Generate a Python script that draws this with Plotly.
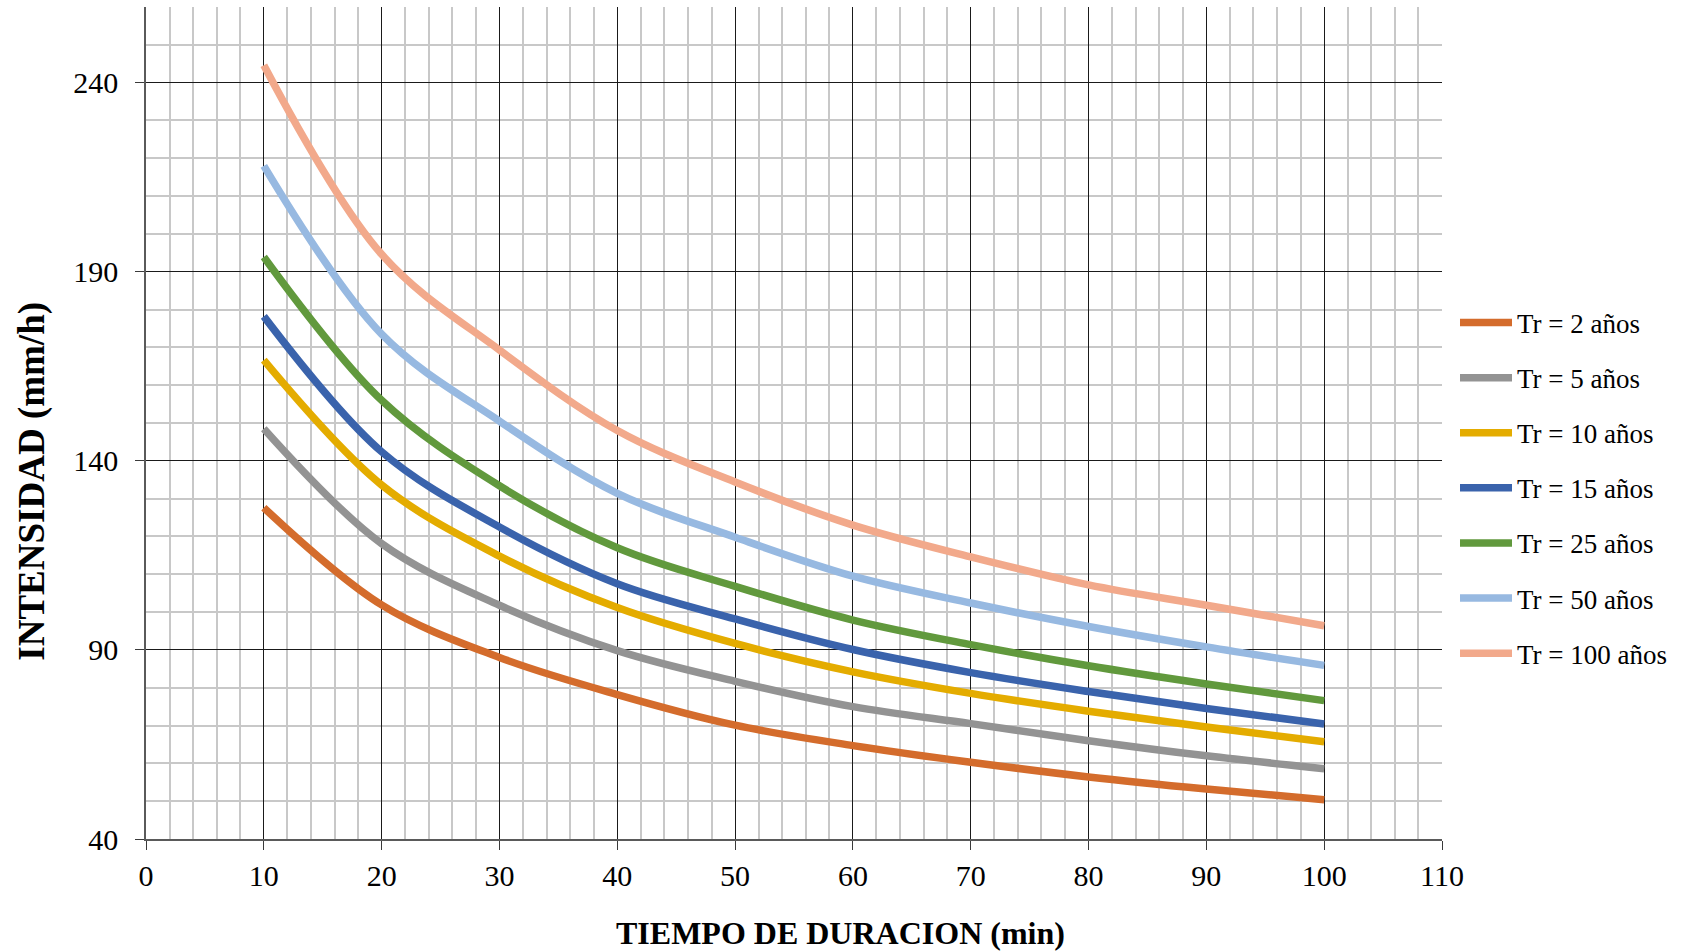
import plotly.graph_objects as go

# Duration (min)
t = [10, 20, 30, 40, 50, 60, 70, 80, 90, 100]

# Intensity (mm/h) per return period
tr2 = [127.6, 101.9, 88.0, 78.2, 70.1, 64.7, 60.3, 56.4, 53.2, 50.4]
tr5 = [148.5, 118.1, 101.8, 89.8, 81.7, 75.0, 70.5, 66.0, 62.0, 58.6]
tr10 = [166.6, 133.6, 114.8, 101.2, 91.7, 84.2, 78.5, 73.8, 69.6, 65.7]
tr15 = [178.2, 142.4, 122.5, 107.5, 98.2, 90.1, 84.0, 79.0, 74.5, 70.4]
tr25 = [193.9, 156.0, 133.4, 117.0, 106.8, 97.9, 91.4, 85.8, 81.0, 76.6]
tr50 = [218.0, 173.5, 150.5, 131.4, 119.8, 109.5, 102.4, 96.2, 90.8, 85.9]
tr100 = [244.6, 194.6, 169.3, 148.0, 134.4, 123.0, 114.6, 107.2, 101.8, 96.4]

names = ["Tr = 2 años", "Tr = 5 años", "Tr = 10 años", "Tr = 15 años",
         "Tr = 25 años", "Tr = 50 años", "Tr = 100 años"]
series = [tr2, tr5, tr10, tr15, tr25, tr50, tr100]
colors = ["#D46C2C", "#939393", "#E4AC00", "#3A63AC", "#61993D", "#97B9E1", "#F2A98B"]

FONT = "Liberation Serif"

fig = go.Figure()
for i, (nm, ys, c) in enumerate(zip(names, series, colors)):
    fig.add_trace(go.Scatter(
        x=t, y=ys, name=nm, mode="lines",
        line=dict(color=c, width=7.5, shape="spline", smoothing=1.0),
        legendgroup=f"g{i}",
    ))

W, H = 1687, 951
L, R, T, B = 146, 245, 7, 112
pw = W - L - R
ph = H - T - B

fig.update_layout(
    width=W, height=H,
    margin=dict(l=L, r=R, t=T, b=B),
    paper_bgcolor="white", plot_bgcolor="white",
    font=dict(family=FONT, color="black"),
    showlegend=True,
    legend=dict(
        x=(1455 - L) / pw, xanchor="left",
        y=(839 - 488) / ph, yanchor="middle",
        font=dict(family=FONT, size=27, color="black"),
        traceorder="grouped", tracegroupgap=17,
        itemwidth=52, bgcolor="rgba(0,0,0,0)",
    ),
    xaxis=dict(
        range=[0, 110], tick0=0, dtick=10,
        showgrid=True, gridcolor="#1a1a1a", gridwidth=1,
        minor=dict(dtick=2, tick0=0, showgrid=True, gridcolor="#C8C8C8", gridwidth=1.5,
                   ticks=""),
        showline=True, linecolor="#5a5a5a", linewidth=1.5,
        ticks="outside", ticklen=9, tickcolor="#3a3a3a", tickwidth=1,
        tickfont=dict(family=FONT, size=30, color="black"),
        ticklabelstandoff=0,
        zeroline=False,
    ),
    yaxis=dict(
        range=[40, 260], tick0=40, dtick=50,
        showgrid=True, gridcolor="#1a1a1a", gridwidth=1,
        minor=dict(dtick=10, tick0=40, showgrid=True, gridcolor="#C8C8C8", gridwidth=1.5,
                   ticks=""),
        showline=True, linecolor="#5a5a5a", linewidth=1.5,
        ticks="outside", ticklen=9, tickcolor="#3a3a3a", tickwidth=1,
        tickfont=dict(family=FONT, size=30, color="black"),
        ticklabelstandoff=11,
        zeroline=False,
    ),
    annotations=[
        dict(text="INTENSIDAD (mm/h)", textangle=-90,
             xref="paper", yref="paper",
             x=(31.7 - L) / pw, y=(839 - 481) / ph,
             xanchor="center", yanchor="middle", showarrow=False,
             font=dict(family=FONT, size=37, color="black", weight="bold")),
        dict(text="TIEMPO DE DURACION (min)",
             xref="paper", yref="paper",
             x=(840 - L) / pw, y=(839 - 933) / ph,
             xanchor="center", yanchor="middle", showarrow=False,
             font=dict(family=FONT, size=32, color="black", weight="bold")),
    ],
)

fig.write_html("out.html")
